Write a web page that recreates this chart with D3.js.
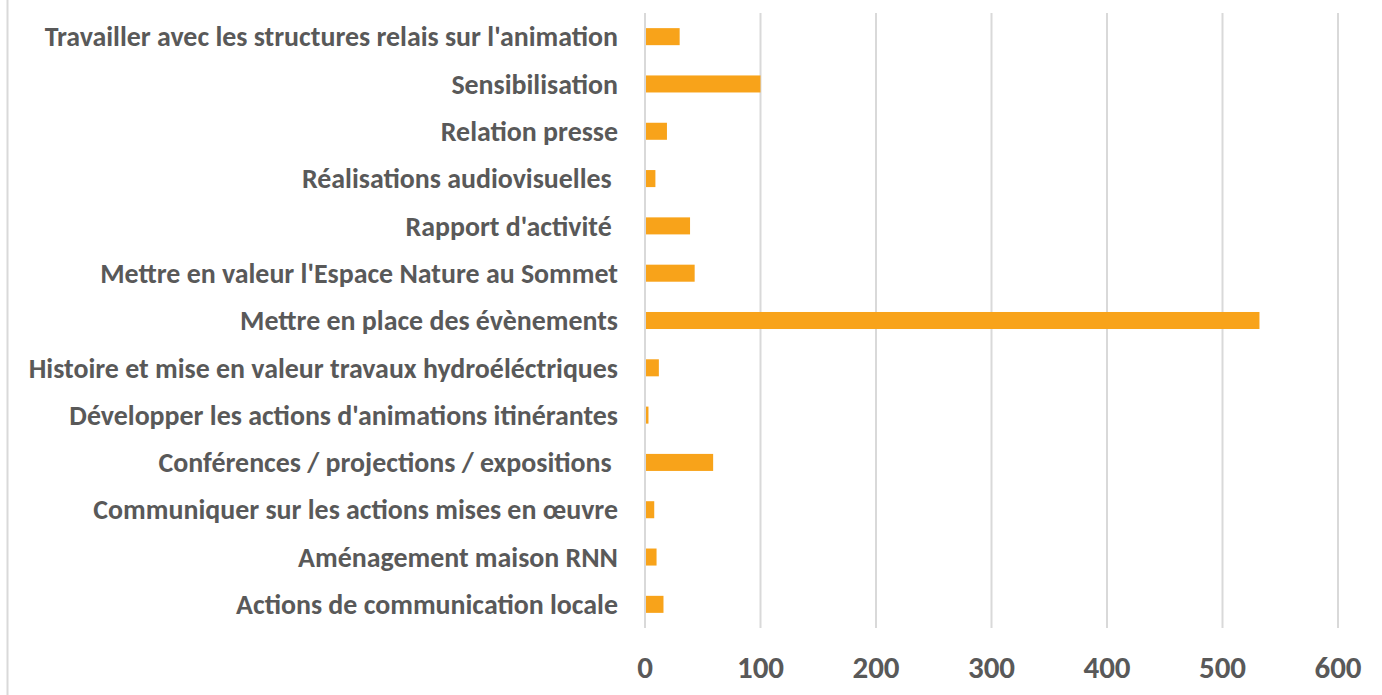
<!DOCTYPE html>
<html>
<head>
<meta charset="utf-8">
<script src="https://cdn.jsdelivr.net/npm/d3@7"></script>
<style>
  body { margin: 0; background: #fff; }
  svg text { white-space: pre; }
</style>
</head>
<body>
<div id="chart"></div>
<script>
// categories, top to bottom as shown
var categories = [
  "Travailler avec les structures relais sur l'animation",
  "Sensibilisation",
  "Relation presse",
  "Réalisations audiovisuelles ",
  "Rapport d'activité ",
  "Mettre en valeur l'Espace Nature au Sommet",
  "Mettre en place des évènements",
  "Histoire et mise en valeur travaux hydroéléctriques",
  "Développer les actions d'animations itinérantes",
  "Conférences / projections / expositions ",
  "Communiquer sur les actions mises en œuvre",
  "Aménagement maison RNN",
  "Actions de communication locale"
];
var values = [30, 100, 19, 9, 39, 43, 532, 12, 3, 59, 8, 10, 16];
var xTicks = [0, 100, 200, 300, 400, 500, 600];

var width = 1382, height = 695;
var margin = {top: 13, right: 44, bottom: 67, left: 645};
var font = "Carlito, Calibri, Lato, 'Liberation Sans', Arial, sans-serif";

var svg = d3.select("#chart").append("svg")
  .attr("width", width)
  .attr("height", height);

// chart border, only the left edge is in frame
svg.append("line")
  .attr("x1", 7.5).attr("x2", 7.5)
  .attr("y1", 0).attr("y2", height)
  .attr("stroke", "#d9d9d9")
  .attr("stroke-width", 2);

var x = d3.scaleLinear()
  .domain([0, 600])
  .range([margin.left, width - margin.right]);

var y = d3.scaleBand()
  .domain(categories)
  .range([margin.top, height - margin.bottom])
  .paddingInner(0.64)
  .paddingOuter(0.32);

// gridlines
svg.append("g")
  .selectAll("line")
  .data(xTicks)
  .join("line")
  .attr("x1", d => x(d)).attr("x2", d => x(d))
  .attr("y1", margin.top).attr("y2", height - margin.bottom)
  .attr("stroke", "#d9d9d9")
  .attr("stroke-width", 2);

// bars
svg.append("g")
  .selectAll("rect")
  .data(values)
  .join("rect")
  .attr("x", x(0) + 1)
  .attr("y", (d, i) => y(categories[i]))
  .attr("width", d => Math.max(0, x(d) - x(0) - 1))
  .attr("height", y.bandwidth())
  .attr("fill", "#f8a31a");

// category labels
svg.append("g")
  .selectAll("text")
  .data(categories)
  .join("text")
  .attr("x", 618)
  .attr("y", d => y(d) + y.bandwidth() / 2)
  .attr("dy", "0.35em")
  .attr("text-anchor", "end")
  .attr("font-family", font)
  .attr("font-weight", "bold")
  .attr("font-size", 27.9)
  .attr("fill", "#595959")
  .text(d => d);

// x tick labels
svg.append("g")
  .selectAll("text")
  .data(xTicks)
  .join("text")
  .attr("x", d => x(d))
  .attr("y", 667)
  .attr("dy", "0.35em")
  .attr("text-anchor", "middle")
  .attr("font-family", font)
  .attr("font-weight", "bold")
  .attr("font-size", 31)
  .attr("fill", "#595959")
  .text(d => d);
</script>
</body>
</html>
